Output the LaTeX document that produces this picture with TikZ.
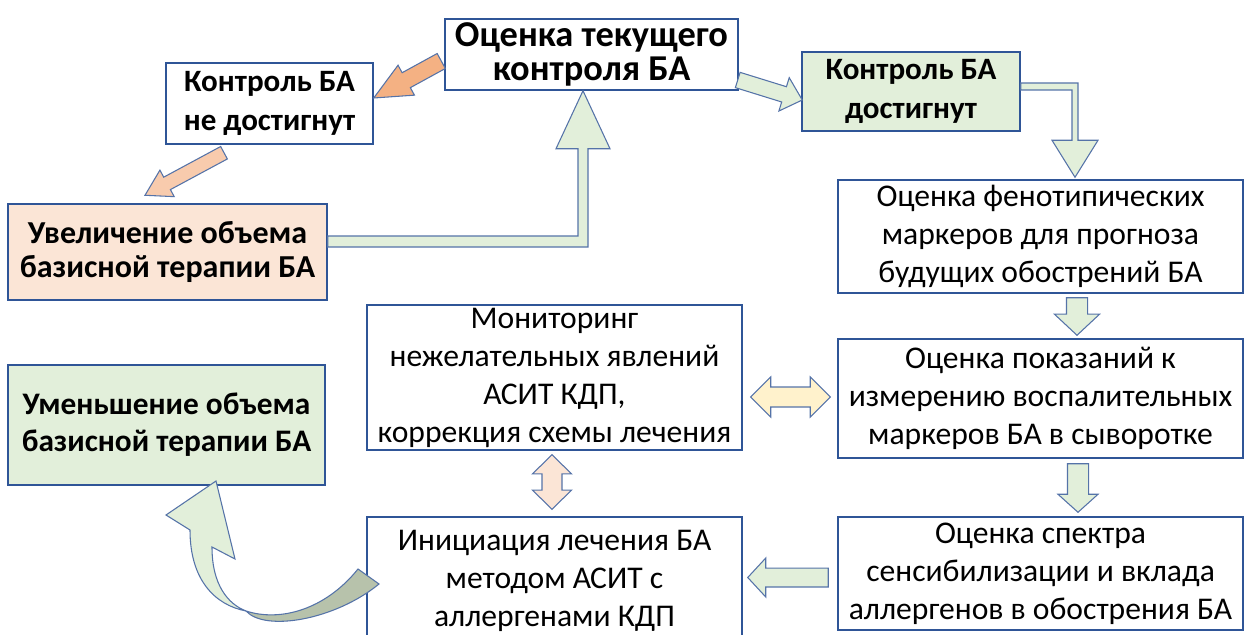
\documentclass[tikz,border=0pt]{standalone}
\usepackage{fontspec}
\setmainfont{Carlito}
\usetikzlibrary{calc}
\definecolor{boxblue}{HTML}{2F5597}
\definecolor{arrowline}{HTML}{5573A8}
\definecolor{paleGreen}{HTML}{E2EFDA}
\definecolor{palePeach}{HTML}{FBE5D6}
\definecolor{deepOrange}{HTML}{F4B183}
\definecolor{softOrange}{HTML}{F8CBAD}
\definecolor{paleYellow}{HTML}{FFF2CC}
\definecolor{tailGreen}{HTML}{B7C2AB}

\tikzset{
  box/.style={draw=boxblue, line width=1.1pt, fill=white, align=center, inner sep=0pt,
    font=\fontsize{23.7}{28.5}\selectfont},
  keybox/.style={box, font=\bfseries\fontsize{23.3}{29.5}\selectfont},
  arr/.style={draw=arrowline, line width=0.8pt, line join=miter},
}

% block arrow: style, tail, tip, shaft half width, head half width, head length
\newcommand{\blockarrow}[6]{%
  \coordinate (ba-h) at ($(#3)!#6!(#2)$);
  \filldraw[arr,#1] ($(#2)!#4!90:(#3)$) -- ($(ba-h)!#4!90:(#3)$) -- ($(ba-h)!#5!90:(#3)$)
    -- (#3) -- ($(ba-h)!#5!-90:(#3)$) -- ($(ba-h)!#4!-90:(#3)$) -- ($(#2)!#4!-90:(#3)$) -- cycle;
}
% same with two heads
\newcommand{\doublearrow}[6]{%
  \coordinate (da-a) at ($(#2)!#6!(#3)$);
  \coordinate (da-b) at ($(#3)!#6!(#2)$);
  \filldraw[arr,#1] (#2) -- ($(da-a)!#5!90:(#3)$) -- ($(da-a)!#4!90:(#3)$)
    -- ($(da-b)!#4!-90:(#2)$) -- ($(da-b)!#5!-90:(#2)$) -- (#3)
    -- ($(da-b)!#5!90:(#2)$) -- ($(da-b)!#4!90:(#2)$)
    -- ($(da-a)!#4!-90:(#3)$) -- ($(da-a)!#5!-90:(#3)$) -- cycle;
}

\begin{document}
\begin{tikzpicture}[x=0.75pt,y=-0.75pt]
  \useasboundingbox (0,0) rectangle (1246,635);
  % boxes
  \node[keybox, font=\bfseries\fontsize{27.3}{25.5}\selectfont, minimum width=219.75pt, minimum height=53.25pt]
    (est) at (591.5,54.5) {Оценка текущего\\контроля БА};
  \node[keybox, minimum width=155.25pt, minimum height=60.75pt]
    (notCtrl) at (269.5,103.5) {Контроль БА\\не достигнут};
  \node[keybox, fill=paleGreen, minimum width=163.5pt, minimum height=59.25pt]
    (ctrl) at (911,91.5) {Контроль БА\\достигнут};
  \node[keybox, fill=palePeach, font=\bfseries\fontsize{24}{25.5}\selectfont, minimum width=239.25pt, minimum height=72pt]
    (stepUp) at (167.5,252) {Увеличение объема\\базисной терапии БА};
  \node[keybox, fill=paleGreen, font=\bfseries\fontsize{23.5}{27.75}\selectfont, minimum width=237.75pt, minimum height=90pt]
    (stepDown) at (166.5,425) {Уменьшение объема\\базисной терапии БА};
  \node[box, minimum width=303.75pt, minimum height=84.75pt]
    (pheno) at (1040.5,236.5) {Оценка фенотипических\\маркеров для прогноза\\будущих обострений БА};
  \node[box, minimum width=303.75pt, minimum height=89.25pt]
    (markers) at (1040.5,398.5) {Оценка показаний к\\измерению воспалительных\\маркеров БА в сыворотке};
  \node[box, minimum width=303.75pt, minimum height=84.75pt]
    (sens) at (1040.5,573.5) {Оценка спектра\\сенсибилизации и вклада\\аллергенов в обострения БА};
  \node[box, minimum width=281.25pt, minimum height=108.75pt]
    (monitor) at (554.5,377.5) {Мониторинг\\нежелательных явлений\\АСИТ КДП,\\коррекция схемы лечения};
  \node[box, minimum width=281.25pt, minimum height=96pt]
    (asit) at (554.5,581) {Инициация лечения БА\\методом АСИТ с\\аллергенами КДП};

  % arrows out of the assessment
  \coordinate (a1t) at ($(est.west)+(-3,6.5)$);
  \coordinate (a1h) at ($(notCtrl.east)+(0,-5.5)$);
  \blockarrow{fill=deepOrange}{a1t}{a1h}{6.4pt}{12.8pt}{27.8pt}
  \coordinate (a2t) at ($(notCtrl.south)+(-45.5,8)$);
  \coordinate (a2h) at ($(stepUp.north)+(-22.5,-8)$);
  \blockarrow{fill=softOrange}{a2t}{a2h}{5.3pt}{11.3pt}{18.8pt}
  \coordinate (a3t) at ($(est.east)+(-1,25.5)$);
  \coordinate (a3h) at ($(ctrl.west)+(1,8.5)$);
  \blockarrow{fill=paleGreen}{a3t}{a3h}{6pt}{13.1pt}{14.3pt}

  % back up to the assessment
  \coordinate (upTip) at ($(est.south)+(-8.5,0)$);
  \filldraw[arr, fill=paleGreen] ($(stepUp.east)+(0,-16)$) -| ($(upTip)+(-5,58)$)
    -- ($(upTip)+(-27,58)$) -- (upTip) -- ($(upTip)+(27,58)$) -- ($(upTip)+(5,58)$)
    |- ($(stepUp.east)+(0,-5)$) -- cycle;
  % down the right column
  \coordinate (downTip) at ($(pheno.north)+(34.5,-2)$);
  \filldraw[arr, fill=paleGreen] ($(ctrl.east)+(0,-8.5)$) -| ($(downTip)+(3,-37)$)
    -- ($(downTip)+(23,-37)$) -- (downTip) -- ($(downTip)+(-23,-37)$) -- ($(downTip)+(-3,-37)$)
    |- ($(ctrl.east)+(0,-1.5)$) -- cycle;
  \coordinate (a4t) at ($(pheno.south)+(36.5,4)$);
  \coordinate (a4h) at ($(markers.north)+(36.5,-3)$);
  \blockarrow{fill=paleGreen}{a4t}{a4h}{7.9pt}{16.9pt}{15.8pt}
  \coordinate (a5t) at ($(markers.south)+(37.5,5)$);
  \coordinate (a5h) at ($(sens.north)+(37.5,-4)$);
  \blockarrow{fill=paleGreen}{a5t}{a5h}{7.9pt}{15pt}{13.5pt}
  \coordinate (a6t) at ($(sens.west)+(-9,4)$);
  \coordinate (a6h) at ($(asit.east)+(5,-3.5)$);
  \blockarrow{fill=paleGreen}{a6t}{a6h}{7.1pt}{14.6pt}{13.5pt}

  % two-way arrows
  \coordinate (d1a) at ($(monitor.east)+(8,19.5)$);
  \coordinate (d1b) at ($(markers.west)+(-7,-1.5)$);
  \doublearrow{fill=paleYellow}{d1a}{d1b}{7.5pt}{15pt}{15pt}
  \coordinate (d2a) at ($(monitor.south)+(-2.5,4)$);
  \coordinate (d2b) at ($(asit.north)+(-2.5,-7)$);
  \doublearrow{fill=palePeach}{d2a}{d2b}{7.5pt}{14.6pt}{14.3pt}

  % curved arrow to the step down
  \filldraw[arr, fill=paleGreen] (216,481) -- (235,559) -- (212,547)
    .. controls (212,585) and (228,604) .. (246,611)
    .. controls (215,605) and (190,580) .. (190,530) -- (166,515) -- cycle;
  \filldraw[arr, fill=tailGreen] (246,611) .. controls (265,632) and (335,620) .. (379,584)
    -- (358,569) .. controls (325,610) and (280,622) .. (246,611) -- cycle;
\end{tikzpicture}
\end{document}
